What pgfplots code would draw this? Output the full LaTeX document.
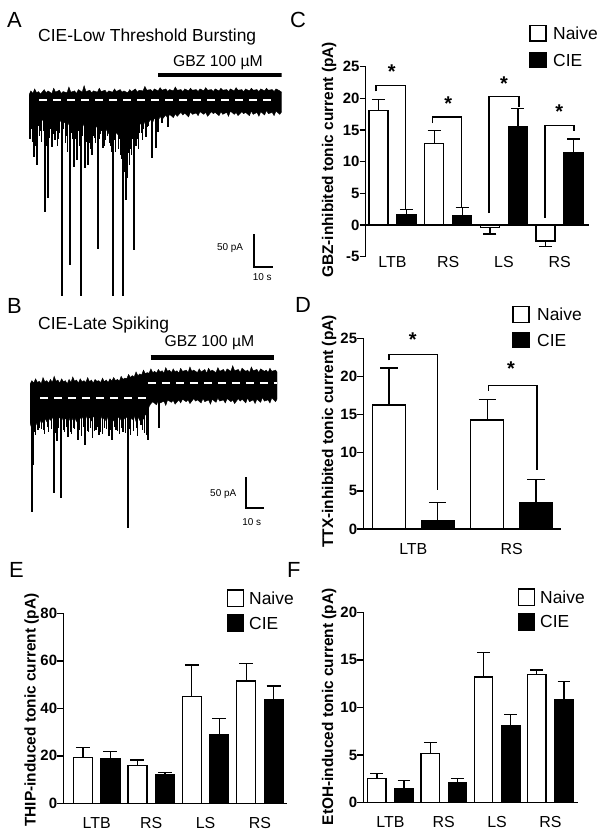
\documentclass[border=0pt]{standalone}
\usepackage{pgfplots}
\pgfplotsset{compat=1.18}
\usepackage{fontspec}
\setmainfont{Liberation Sans}
\newfontfamily\bsf{Liberation Sans Bold}
\newcommand{\fs}[1]{\fontsize{#1}{#1}\selectfont}

\pgfplotsset{
  trace/.style={scale only axis, hide axis, clip mode=individual},
  barpanel/.style={
    scale only axis,
    axis y line*=left, axis x line*=middle,
    xtick=\empty,
    axis line style={line width=1.5bp, -},
    every tick/.style={line width=1.5bp, black},
    tick align=outside, major tick length=6bp,
    yticklabel style={font=\bsf\fs{15}, inner sep=0pt},
    /pgf/number format/assume math mode=true,
    ybar, bar width=19bp,
    clip=false,
    error bars/y dir=plus, error bars/y explicit,
    error bars/error bar style={line width=1.3bp, black},
    error bars/error mark options={rotate=90, mark size=6.5bp, line width=1.3bp, black},
  },
  naive/.style={draw=black, fill=white, line width=1.3bp},
  cie/.style={draw=black, fill=black, line width=1.3bp},
}
\tikzset{
  brk/.style={line width=1.3bp, black},
  ast/.style={anchor=north, inner sep=0pt, font=\bsf\fs{20}},
  cat/.style={anchor=center, inner sep=0pt, font=\fs{16}},
  ylab/.style={rotate=90, anchor=base, inner sep=0pt, font=\bsf\fs{15.5}},
  lett/.style={anchor=base west, inner sep=0pt, font=\fs{22}},
  legt/.style={anchor=west, inner sep=0pt, font=\fs{17.5}},
}

\begin{document}
\begin{tikzpicture}
\useasboundingbox (0,0) rectangle (604bp,-837bp);

% ---------------- Panel A trace ----------------
\begin{axis}[trace, at={(29bp,-295.6bp)}, anchor=south west,
  width=252.7bp, height=228.2bp, xmin=0, xmax=133, ymin=-300, ymax=50]
\addplot[fill=black, draw=black, line width=0.4bp] coordinates {
(0,8) (1,14) (2,10) (3,17) (4,11) (5,13) (6,9) (8,16) (9,11) (10,14) (12,10) (13,18) (14,12) (16,15) (17,10) (18,13) (20,11) (21,20) (22,12) (24,14) (25,10) (26,16) (28,12) (29,22) (30,13) (32,15) (33,11) (34,14) (36,12) (37,18) (38,13) (40,15) (41,11) (42,14) (44,12) (45,17) (46,13) (48,16) (49,12) (50,14) (52,11) (53,16) (54,13) (56,17) (57,12) (58,15) (60,14) (61,21) (62,15) (64,16) (65,13) (66,17) (68,14) (69,19) (70,15) (72,17) (73,13) (74,16) (76,14) (77,20) (78,15) (80,16) (81,13) (82,17) (84,14) (85,18) (86,15) (88,16) (89,13) (90,17) (92,14) (93,19) (94,15) (96,16) (97,13) (98,17) (100,14) (101,18) (102,15) (104,16) (105,13) (106,17) (108,14) (109,19) (110,15) (112,16) (113,13) (114,17) (116,14) (117,18) (118,15) (120,16) (121,13) (122,17) (124,14) (125,18) (126,15) (128,16) (129,13) (130,17) (132,14) (133,12)
(133,-18) (132,-22) (130,-17) (129,-24) (128,-19) (126,-21) (125,-16) (124,-23) (122,-18) (121,-25) (120,-19) (118,-22) (117,-17) (116,-24) (114,-19) (113,-21) (112,-18) (110,-24) (109,-19) (108,-22) (106,-17) (105,-25) (104,-19) (102,-22) (101,-18) (100,-24) (98,-19) (97,-21) (96,-18) (94,-25) (93,-19) (92,-22) (90,-18) (89,-24) (88,-20) (86,-22) (85,-18) (84,-26) (82,-20) (81,-23) (80,-19) (78,-25) (77,-21) (76,-27) (74,-22) (73,-28) (72,-23) (70,-30) (69,-25) (68,-32) (66,-28) (65,-35) (64,-30) (62,-38) (61,-33) (60,-40) (58,-35) (57,-42) (56,-38) (54,-45) (53,-55) (52,-48) (50,-60) (49,-52) (48,-58) (46,-50) (45,-55) (44,-48) (42,-52) (41,-45) (40,-50) (38,-44) (37,-48) (36,-40) (34,-45) (33,-38) (32,-42) (30,-36) (29,-40) (28,-34) (26,-38) (25,-33) (24,-40) (22,-35) (21,-38) (20,-32) (18,-36) (17,-30) (16,-35) (14,-32) (13,-36) (12,-30) (10,-34) (9,-29) (8,-33) (6,-28) (5,-32) (4,-35) (2,-38) (1,-40) (0,-30)
};
\addplot[ycomb, black, line width=1.6bp] coordinates {
(2.6,-87) (4.2,-100) (8.4,-172) (10,-150) (12.1,-72) (13.7,-61) (17.4,-320) (21.6,-253) (23.7,-103) (25.3,-92) (27.4,-320) (29.5,-104) (31,-100) (33.2,-84) (36.3,-229) (38.9,-74) (41.6,-31) (44.2,-320) (46.3,-41) (49.5,-320) (51,-153) (52.1,-81) (55.3,-230) (61.6,-57) (64.7,-89) (66.8,-74) (67.9,-49) (73.2,-41)
};
\addplot[ycomb, black, line width=1.1bp] coordinates {
(0.5,-60) (1.5,-45) (3.5,-70) (5.5,-55) (6.8,-65) (7.5,-48) (11,-58) (15,-70) (16.2,-50) (19,-66) (20.3,-80) (22.7,-60) (26.5,-70) (28.3,-55) (30.2,-64) (32.2,-75) (34.5,-58) (35.2,-66) (37.5,-52) (40.2,-62) (43,-70) (45.5,-80) (47.5,-60) (48.5,-90) (50.2,-110) (53.5,-75) (54.5,-60) (56.5,-70) (58,-50) (59.5,-62) (63,-40) (70,-35)
};
\addplot[ycomb, black, line width=0.8bp] coordinates {
(0.2,-45) (2,-65) (3,-50) (5,-40) (6.2,-48) (9.3,-70) (11.5,-45) (12.8,-52) (14.4,-48) (15.7,-60) (18.2,-45) (19.6,-55) (21,-70) (22.2,-50) (24.3,-60) (26,-48) (27,-75) (29,-60) (30.8,-50) (31.7,-66) (33.8,-55) (36,-70) (37,-60) (38.2,-48) (39.5,-70) (41,-55) (42.3,-66) (43.6,-80) (44.8,-62) (46.8,-75) (48,-85) (49,-70) (50.8,-95) (51.6,-120) (52.8,-100) (53.9,-85) (55.8,-70) (56.9,-60) (57.6,-75) (59,-50) (60.4,-45) (62.2,-42)
};
\addplot[white, dash pattern=on 8bp off 6bp, line width=1.6bp] coordinates {(5.3,0) (130.5,0)};
\addplot[black, line width=4.6bp] coordinates {(68.05,38.3) (133,38.3)};
\addplot[black, line width=1.8bp] coordinates {(118.6,-205.8) (118.6,-256.7) (128.6,-256.7)};
\node[font=\fs{10}, inner sep=0pt] at (axis cs:105.8,-227.5) {50 pA};
\node[font=\fs{10}, inner sep=0pt] at (axis cs:122.8,-271.5) {10 s};
\end{axis}

% ---------------- Panel B trace ----------------
\begin{axis}[trace, at={(30bp,-529.4bp)}, anchor=south west,
  width=247bp, height=177.9bp, xmin=0, xmax=132.8, ymin=-212, ymax=75]
\addplot[fill=black, draw=black, line width=0.4bp] coordinates {
(0,22) (1,28) (2,24) (3,31) (4,25) (5,27) (6,23) (7,33) (8,26) (9,28) (10,24) (11,30) (12,25) (13,35) (14,27) (15,29) (16,24) (17,31) (18,26) (19,28) (20,23) (21,30) (22,25) (23,34) (24,27) (25,29) (26,24) (27,31) (28,26) (29,28) (30,25) (31,33) (32,26) (33,29) (34,24) (35,30) (36,27) (37,28) (38,25) (39,32) (40,26) (41,29) (42,25) (43,31) (44,27) (45,33) (46,28) (47,30) (48,27) (49,35) (50,30) (51,32) (52,31) (53,38) (54,33) (55,36) (56,34) (57,42) (58,36) (59,39) (60,37) (61,45) (62,39) (63,41) (64,40) (65,47) (66,41) (67,43) (68,40) (69,46) (70,42) (71,44) (72,40) (73,49) (74,43) (75,45) (76,41) (77,47) (78,42) (79,44) (80,40) (81,48) (82,43) (84,45) (85,41) (86,50) (87,43) (88,45) (90,41) (91,47) (92,42) (94,46) (95,40) (96,48) (97,43) (98,45) (100,41) (101,49) (102,43) (104,46) (105,41) (106,47) (108,43) (109,52) (110,44) (112,46) (113,41) (114,48) (116,43) (117,45) (118,41) (119,50) (120,44) (122,46) (123,41) (124,47) (126,43) (127,45) (128,41) (129,48) (130,43) (132,45) (132.8,42)
(132.8,-2) (132,-6) (130,0) (129,-8) (128,-3) (126,-5) (125,1) (124,-7) (122,-2) (121,-9) (120,-3) (118,-6) (117,0) (116,-8) (114,-2) (113,-5) (112,-1) (110,-9) (109,-3) (108,-6) (106,-1) (105,-8) (104,-3) (102,-5) (101,0) (100,-7) (98,-2) (97,-10) (96,-3) (94,-6) (93,-1) (92,-8) (90,-3) (89,-5) (88,-1) (86,-9) (85,-3) (84,-6) (82,-2) (81,-8) (80,-3) (78,-10) (77,-4) (76,-7) (74,-3) (73,-12) (72,-5) (70,-8) (69,-4) (68,-11) (66,-6) (65,-9) (64,-14) (63,-30) (62,-26) (61,-34) (60,-28) (59,-36) (58,-30) (57,-38) (56,-29) (55,-35) (54,-31) (53,-40) (52,-30) (51,-34) (50,-28) (49,-36) (48,-30) (47,-33) (46,-28) (45,-37) (44,-30) (43,-34) (42,-29) (41,-38) (40,-31) (39,-35) (38,-28) (37,-36) (36,-30) (35,-34) (34,-29) (33,-37) (32,-31) (31,-35) (30,-28) (29,-36) (28,-30) (27,-33) (26,-29) (25,-38) (24,-31) (23,-35) (22,-28) (21,-36) (20,-30) (19,-34) (18,-29) (17,-37) (16,-31) (15,-35) (14,-30) (13,-38) (12,-31) (11,-36) (10,-32) (9,-38) (8,-33) (7,-40) (6,-35) (5,-42) (4,-38) (3,-45) (2,-48) (1,-50) (0,-40)
};
\addplot[ycomb, black, line width=1.6bp] coordinates {
(1.1,-184) (1.6,-108) (4.3,-52) (12.9,-153) (16.7,-161) (20.4,-63) (25.8,-68) (29.6,-76) (37.1,-60) (44.1,-68) (46.2,-52) (52.7,-210) (59.7,-44) (63.4,-68) (69.4,-48)
};
\addplot[ycomb, black, line width=1.1bp] coordinates {
(3,-60) (6,-50) (8,-58) (10,-55) (14.5,-70) (18.5,-55) (22.5,-58) (24,-50) (27.5,-62) (31.5,-55) (33.5,-64) (35.5,-52) (39,-58) (41,-50) (42.5,-62) (48,-58) (50,-55) (54,-60) (58,-62) (61.5,-56) (62.5,-60)
};
\addplot[ycomb, black, line width=0.8bp] coordinates {
(2.2,-55) (5.2,-48) (7.1,-52) (9.2,-46) (11.3,-50) (13.8,-56) (15.5,-48) (17.8,-52) (19.5,-47) (21.6,-55) (23.2,-49) (26.6,-52) (28.5,-47) (30.6,-54) (32.4,-48) (34.5,-53) (36.2,-47) (38.1,-55) (40.2,-49) (43.3,-52) (45.2,-47) (47.1,-54) (49.2,-48) (51.3,-56) (53.5,-50) (55.4,-54) (57.2,-48) (60.6,-52)
};
\addplot[white, dash pattern=on 8bp off 6bp, line width=1.6bp] coordinates {(5.4,0) (63.4,0)};
\addplot[white, dash pattern=on 8bp off 6bp, line width=1.6bp] coordinates {(63.4,24.2) (132.8,24.2)};
\addplot[black, line width=4.6bp] coordinates {(64.9,65.3) (131.2,65.3)};
\addplot[black, line width=1.8bp] coordinates {(116,-127.9) (116,-177.9) (126,-177.9)};
\node[font=\fs{10}, inner sep=0pt] at (axis cs:103.9,-155.6) {50 pA};
\node[font=\fs{10}, inner sep=0pt] at (axis cs:119.2,-200) {10 s};
\end{axis}

% ---------------- Panel C ----------------
\begin{axis}[barpanel, at={(365.7bp,-256.7bp)}, anchor=south west,
  width=223.3bp, height=190bp, xmin=-0.481, xmax=3.528, ymin=-5, ymax=25,
  ytick={-5,0,5,10,15,20,25}]
\addplot[naive, bar shift=-14bp] coordinates {(0,18.1) +- (0,1.7) (1,12.9) +- (0,2.0)};
\addplot[naive, bar shift=-14bp, error bars/y dir=minus] coordinates {(2,-0.4) +- (0,1.0) (3,-2.5) +- (0,0.9)};
\addplot[cie, bar shift=14bp] coordinates {(0,1.6) +- (0,0.9) (1,1.5) +- (0,1.3) (2,15.5) +- (0,2.9) (3,11.4) +- (0,2.2)};
\draw[brk] (axis cs:-0.296,21.1) -- (axis cs:-0.296,22.0) -- (axis cs:0.237,22.0) -- (axis cs:0.237,2.6);
\draw[brk] (axis cs:0.722,16.1) -- (axis cs:0.722,17.06) -- (axis cs:1.242,17.06) -- (axis cs:1.242,2.9);
\draw[brk] (axis cs:1.733,1.9) -- (axis cs:1.733,20.3) -- (axis cs:2.271,20.3) -- (axis cs:2.271,18.7);
\draw[brk] (axis cs:2.738,1.15) -- (axis cs:2.738,15.7) -- (axis cs:3.259,15.7) -- (axis cs:3.259,14.8);
\node[ast] at (axis cs:-0.014,25.3) {*};
\node[ast] at (axis cs:1.0,20.3) {*};
\node[ast] at (axis cs:2.0,23.5) {*};
\node[ast] at (axis cs:2.995,19.0) {*};
\node[cat] at (axis cs:0,-5.9) {LTB};
\node[cat] at (axis cs:1,-5.9) {RS};
\node[cat] at (axis cs:2,-5.9) {LS};
\node[cat] at (axis cs:3,-5.9) {RS};
\end{axis}

% ---------------- Panel D ----------------
\begin{axis}[barpanel, at={(363.3bp,-529bp)}, anchor=south west,
  width=197.7bp, height=190.7bp, xmin=-0.508, xmax=1.501, ymin=0, ymax=25,
  ytick={0,5,10,15,20,25}, bar width=33bp,
  error bars/error mark options={rotate=90, mark size=8.8bp, line width=1.3bp, black}]
\addplot[naive, bar shift=-24.4bp] coordinates {(0,16.25) +- (0,4.85) (1,14.3) +- (0,2.7)};
\addplot[cie, bar shift=24.4bp] coordinates {(0,1.05) +- (0,2.4) (1,3.45) +- (0,3.05)};
\draw[brk] (axis cs:-0.247,22.1) -- (axis cs:-0.247,22.9) -- (axis cs:0.244,22.9) -- (axis cs:0.244,5.1);
\draw[brk] (axis cs:0.762,18.1) -- (axis cs:0.762,18.8) -- (axis cs:1.257,18.8) -- (axis cs:1.257,7.7);
\node[ast] at (axis cs:-0.006,25.8) {*};
\node[ast] at (axis cs:0.993,21.9) {*};
\node[cat] at (axis cs:0,-2.6) {LTB};
\node[cat] at (axis cs:1,-2.6) {RS};
\end{axis}

% ---------------- Panel E ----------------
\begin{axis}[barpanel, at={(63.3bp,-803.3bp)}, anchor=south west,
  width=223.7bp, height=190bp, xmin=-0.614, xmax=3.498, ymin=0, ymax=80,
  ytick={0,20,40,60,80},
  error bars/error mark options={rotate=90, mark size=7bp, line width=1.3bp, black}]
\addplot[naive, bar shift=-13.75bp] coordinates {(0,19.2) +- (0,4.4) (1,15.8) +- (0,2.4) (2,44.9) +- (0,13.3) (3,51.5) +- (0,7.4)};
\addplot[cie, bar shift=13.75bp] coordinates {(0,19.0) +- (0,2.8) (1,12.0) +- (0,0.9) (2,29.0) +- (0,6.6) (3,43.5) +- (0,5.9)};
\node[cat] at (axis cs:0,-8.2) {LTB};
\node[cat] at (axis cs:1,-8.2) {RS};
\node[cat] at (axis cs:2,-8.2) {LS};
\node[cat] at (axis cs:3,-8.2) {RS};
\end{axis}

% ---------------- Panel F ----------------
\begin{axis}[barpanel, at={(363.3bp,-802.7bp)}, anchor=south west,
  width=214.4bp, height=190.4bp, xmin=-0.51, xmax=3.512, ymin=0, ymax=20,
  ytick={0,5,10,15,20}, bar width=18.3bp,
  error bars/error mark options={rotate=90, mark size=6.4bp, line width=1.3bp, black}]
\addplot[naive, bar shift=-13.6bp] coordinates {(0,2.55) +- (0,0.55) (1,5.2) +- (0,1.15) (2,13.2) +- (0,2.55) (3,13.45) +- (0,0.5)};
\addplot[cie, bar shift=13.6bp] coordinates {(0,1.5) +- (0,0.8) (1,2.15) +- (0,0.4) (2,8.1) +- (0,1.2) (3,10.8) +- (0,1.9)};
\node[cat] at (axis cs:0,-2.07) {LTB};
\node[cat] at (axis cs:1,-2.07) {RS};
\node[cat] at (axis cs:2,-2.07) {LS};
\node[cat] at (axis cs:3,-2.07) {RS};
\end{axis}

% ---------------- Texts ----------------
\node[lett] at (7bp,-27bp) {A};
\node[lett] at (7bp,-313bp) {B};
\node[lett] at (290bp,-27bp) {C};
\node[lett] at (295bp,-312bp) {D};
\node[lett] at (9bp,-577bp) {E};
\node[lett] at (287bp,-577bp) {F};

\node[anchor=base west, inner sep=0pt, font=\fs{17.5}] at (38bp,-41.7bp) {CIE-Low Threshold Bursting};
\node[anchor=base, inner sep=0pt, font=\fs{15.8}] at (218bp,-66.7bp) {GBZ 100 µM};
\node[anchor=base west, inner sep=0pt, font=\fs{17.5}] at (38bp,-329.3bp) {CIE-Late Spiking};
\node[anchor=base, inner sep=0pt, font=\fs{15.8}] at (209.5bp,-346.7bp) {GBZ 100 µM};

\node[ylab] at (333bp,-160bp) {GBZ-inhibited tonic current (pA)};
\node[ylab] at (333bp,-431.5bp) {TTX-inhibited tonic current (pA)};
\node[ylab] at (35.5bp,-710bp) {THIP-induced tonic current (pA)};
\node[ylab] at (333bp,-706.7bp) {EtOH-induced tonic current (pA)};

% legends
\draw[line width=1.3bp, fill=white] (530bp,-25.7bp) rectangle (546bp,-41bp);
\draw[line width=1.3bp, fill=black] (530bp,-53bp) rectangle (546bp,-67.7bp);
\node[legt] at (553bp,-33.4bp) {Naive};
\node[legt] at (553bp,-60.4bp) {CIE};

\draw[line width=1.3bp, fill=white] (513bp,-306.7bp) rectangle (529bp,-322.7bp);
\draw[line width=1.3bp, fill=black] (513bp,-333bp) rectangle (529bp,-347.7bp);
\node[legt] at (537bp,-314.7bp) {Naive};
\node[legt] at (537bp,-340.4bp) {CIE};

\draw[line width=1.3bp, fill=white] (227.7bp,-590bp) rectangle (243.3bp,-606.7bp);
\draw[line width=1.3bp, fill=black] (227.7bp,-615bp) rectangle (243.3bp,-631bp);
\node[legt] at (249bp,-598.3bp) {Naive};
\node[legt] at (249bp,-623bp) {CIE};

\draw[line width=1.3bp, fill=white] (518.3bp,-589bp) rectangle (534.3bp,-605.7bp);
\draw[line width=1.3bp, fill=black] (518.3bp,-613.3bp) rectangle (534.3bp,-630bp);
\node[legt] at (540bp,-597.3bp) {Naive};
\node[legt] at (540bp,-621.7bp) {CIE};
\end{tikzpicture}
\end{document}
